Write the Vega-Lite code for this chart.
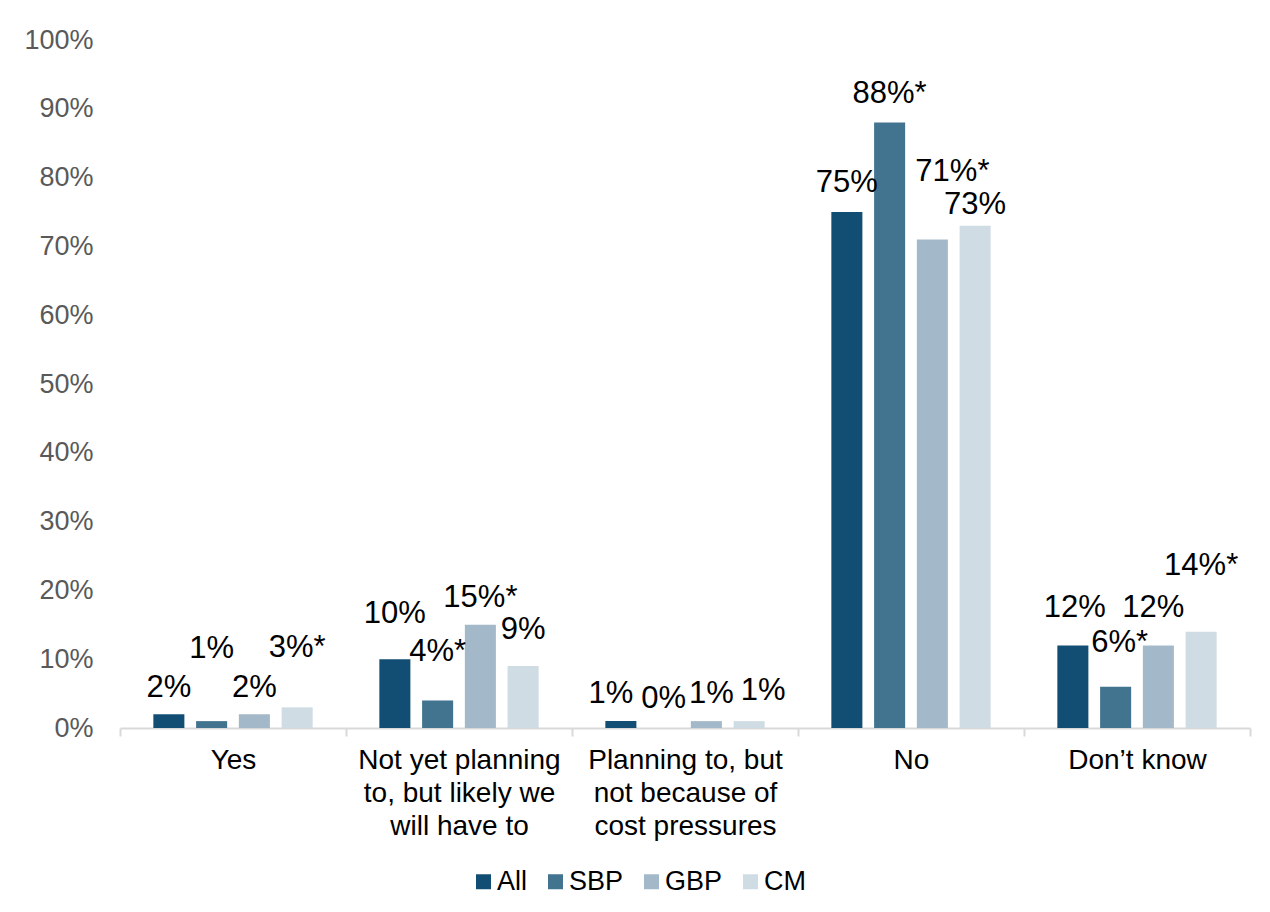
{
  "$schema": "https://vega.github.io/schema/vega-lite/v6.json",
  "width": 1130,
  "height": 688,
  "autosize": "none",
  "padding": {"left": 120, "top": 40, "right": 20, "bottom": 184},
  "background": "white",
  "config": {
    "view": {"stroke": null},
    "font": "Liberation Sans"
  },
  "data": {
    "values": [
      {"category": "Yes", "group": "All", "value": 2, "label": "2%"},
      {"category": "Yes", "group": "SBP", "value": 1, "label": "1%"},
      {"category": "Yes", "group": "GBP", "value": 2, "label": "2%"},
      {"category": "Yes", "group": "CM", "value": 3, "label": "3%*"},
      {"category": "Not yet planning to, but likely we will have to", "group": "All", "value": 10, "label": "10%"},
      {"category": "Not yet planning to, but likely we will have to", "group": "SBP", "value": 4, "label": "4%*"},
      {"category": "Not yet planning to, but likely we will have to", "group": "GBP", "value": 15, "label": "15%*"},
      {"category": "Not yet planning to, but likely we will have to", "group": "CM", "value": 9, "label": "9%"},
      {"category": "Planning to, but not because of cost pressures", "group": "All", "value": 1, "label": "1%"},
      {"category": "Planning to, but not because of cost pressures", "group": "SBP", "value": 0, "label": "0%"},
      {"category": "Planning to, but not because of cost pressures", "group": "GBP", "value": 1, "label": "1%"},
      {"category": "Planning to, but not because of cost pressures", "group": "CM", "value": 1, "label": "1%"},
      {"category": "No", "group": "All", "value": 75, "label": "75%"},
      {"category": "No", "group": "SBP", "value": 88, "label": "88%*"},
      {"category": "No", "group": "GBP", "value": 71, "label": "71%*"},
      {"category": "No", "group": "CM", "value": 73, "label": "73%"},
      {"category": "Don’t know", "group": "All", "value": 12, "label": "12%"},
      {"category": "Don’t know", "group": "SBP", "value": 6, "label": "6%*"},
      {"category": "Don’t know", "group": "GBP", "value": 12, "label": "12%"},
      {"category": "Don’t know", "group": "CM", "value": 14, "label": "14%*"}
    ]
  },
  "encoding": {
    "x": {
      "field": "category",
      "type": "nominal",
      "sort": null,
      "scale": {"paddingInner": 0, "paddingOuter": 0},
      "axis": {
        "title": null,
        "labelAngle": 0,
        "labelFont": "Liberation Sans",
        "labelFontSize": 28,
        "labelColor": "#000000",
        "labelLineHeight": 33,
        "labelPadding": 10,
        "labelBaseline": "top",
        "labelLimit": 0,
        "tickBand": "extent",
        "tickSize": 8,
        "tickColor": "#d9d9d9",
        "tickWidth": 2,
        "domainColor": "#d9d9d9",
        "domainWidth": 2,
        "grid": false,
        "labelExpr": "datum.value == 'Not yet planning to, but likely we will have to' ? ['Not yet planning', 'to, but likely we', 'will have to'] : datum.value == 'Planning to, but not because of cost pressures' ? ['Planning to, but', 'not because of', 'cost pressures'] : datum.value"
      }
    },
    "xOffset": {
      "field": "group",
      "type": "nominal",
      "sort": ["All", "SBP", "GBP", "CM"],
      "scale": {"paddingInner": 0.274, "paddingOuter": 0.78}
    },
    "y": {
      "field": "value",
      "type": "quantitative",
      "scale": {"domain": [0, 100]},
      "axis": {
        "title": null,
        "values": [0, 10, 20, 30, 40, 50, 60, 70, 80, 90, 100],
        "labelExpr": "datum.value + '%'",
        "labelFont": "Liberation Sans",
        "labelFontSize": 27,
        "labelColor": "#595959",
        "labelPadding": 27,
        "ticks": false,
        "domain": false,
        "grid": false
      }
    }
  },
  "layer": [
    {
      "mark": {"type": "bar"},
      "encoding": {
        "color": {
          "field": "group",
          "type": "nominal",
          "sort": ["All", "SBP", "GBP", "CM"],
          "scale": {"domain": ["All", "SBP", "GBP", "CM"], "range": ["#124e73", "#42738f", "#a3b9c9", "#d0dce4"]},
          "legend": {
            "title": null,
            "orient": "none",
            "legendX": 350,
            "legendY": 828,
            "direction": "horizontal",
            "columns": 4,
            "symbolType": "square",
            "symbolSize": 225,
            "symbolStrokeWidth": 0,
            "symbolOpacity": 1,
            "labelFont": "Liberation Sans",
            "labelFontSize": 27,
            "labelColor": "#000000",
            "labelOffset": 0,
            "columnPadding": 14
          }
        }
      }
    },
    {
      "mark": {
        "type": "text",
        "font": "Liberation Sans",
        "fontSize": 31,
        "color": "#000000",
        "baseline": "alphabetic",
        "dy": {"expr": "-(datum.category == 'Yes' ? [17, 63, 17, 50] : datum.category == 'No' ? [20, 20, 59, 12] : datum.category == 'Don’t know' ? [28, 35, 28, 57] : datum.category == 'Not yet planning to, but likely we will have to' ? [36, 39, 18, 27] : [18, 20, 18, 21])[indexof(['All', 'SBP', 'GBP', 'CM'], datum.group)]"},
        "dx": {"expr": "(datum.category == 'No' ? [0, 0, 20, 0] : datum.category == 'Don’t know' ? [2, 4, -5, 0] : datum.category == 'Planning to, but not because of cost pressures' ? [-10, 0, 5, 14] : [0, 0, 0, 0])[indexof(['All', 'SBP', 'GBP', 'CM'], datum.group)]"}
      },
      "encoding": {
        "text": {"field": "label"}
      }
    }
  ]
}
